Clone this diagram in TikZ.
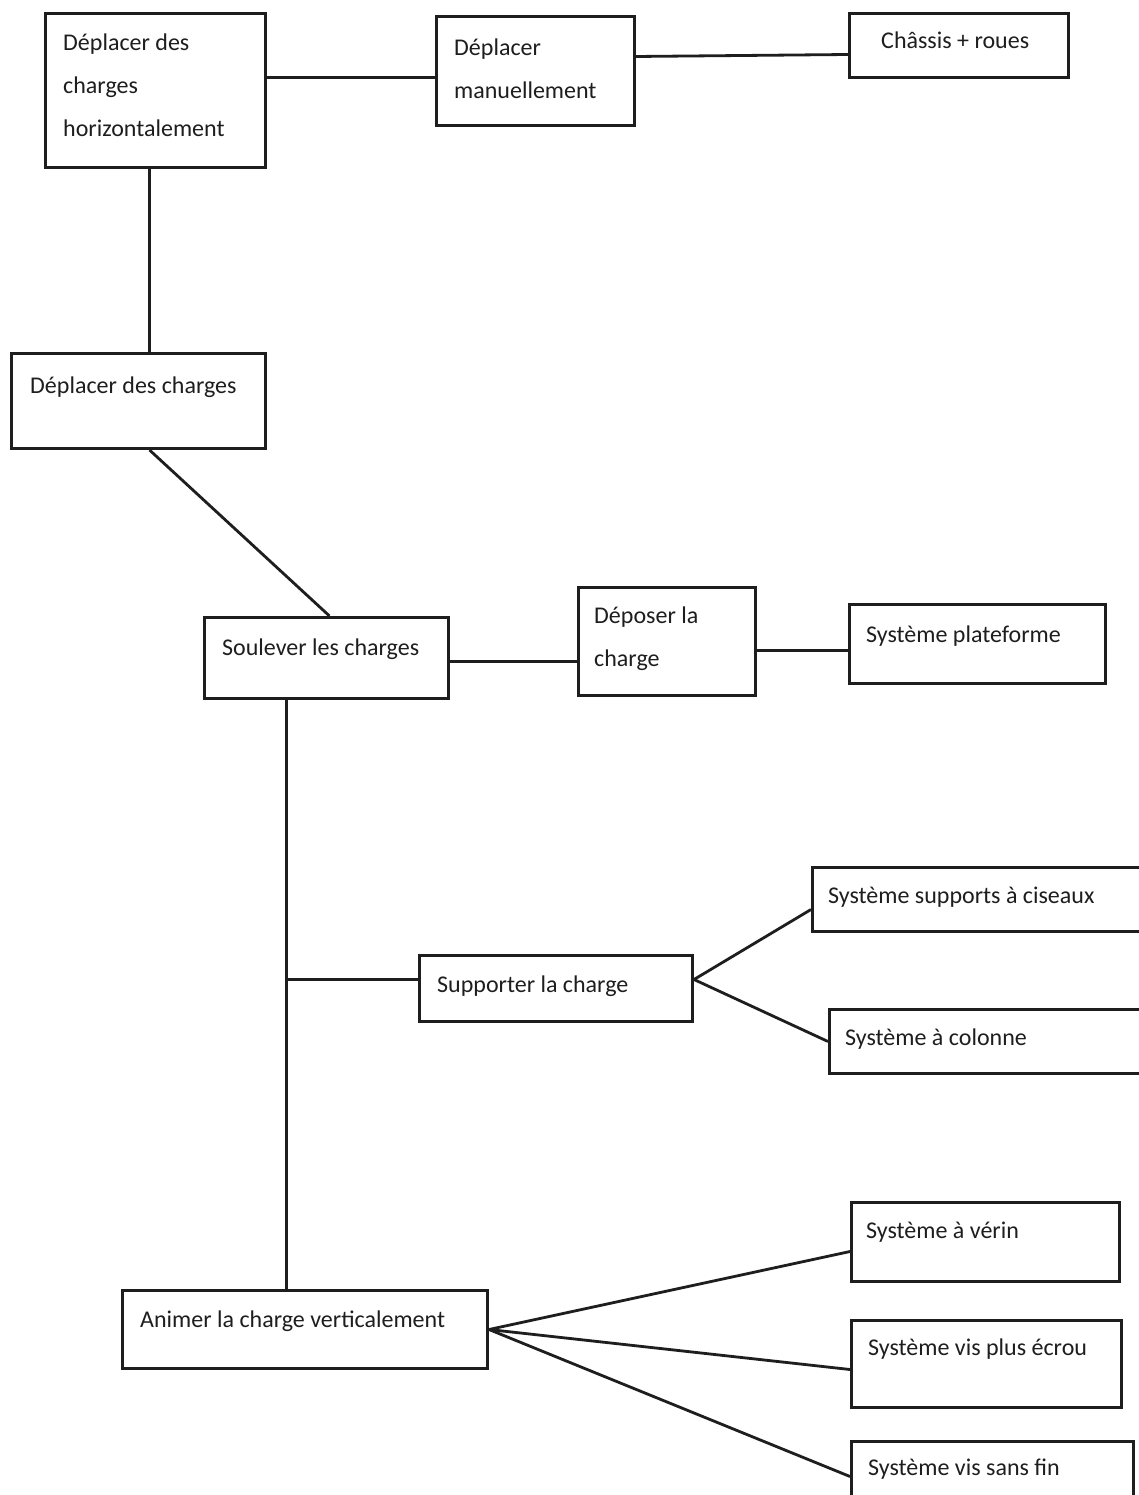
\documentclass[tikz,border=0pt]{standalone}
\usepackage{fontspec}
\setmainfont{Carlito}
\definecolor{ink}{RGB}{30,30,30}
\newcommand{\mlines}[1]{\begin{tabular}[t]{@{}l@{}}#1\end{tabular}}
\tikzset{
  box/.style={draw=ink, line width=3pt, anchor=north west, inner sep=0pt},
  lbl/.style={anchor=base west, inner sep=0pt, text=ink, font=\fontsize{24}{43}\selectfont},
  link/.style={draw=ink, line width=2.8pt}
}
\newcommand{\mybox}[5]{\node[box, minimum width={#4pt-#2pt}, minimum height={#5pt-#3pt}] (#1) at (#2,#3) {};}
\begin{document}
\begin{tikzpicture}[x=1pt,y=-1pt]
\clip (0,0) rectangle (1139,1495);
\fill[white] (0,0) rectangle (1139,1495);
% boxes
\mybox{b1}{44}{12}{264}{166}
\mybox{b2}{435}{15}{633}{124}
\mybox{b3}{848}{12}{1067}{76}
\mybox{b4}{10}{352}{264}{447}
\mybox{b5}{203}{616}{447}{697}
\mybox{b6}{577}{586}{754}{694}
\mybox{b7}{848}{603}{1104}{682}
\mybox{b8}{418}{954}{691}{1020}
\mybox{b9}{811}{866}{1160}{930}
\mybox{b10}{828}{1008}{1160}{1072}
\mybox{b11}{121}{1289}{486}{1367}
\mybox{b12}{850}{1201}{1118}{1280}
\mybox{b13}{850}{1319}{1120}{1406}
\mybox{b14}{850}{1440}{1132}{1510}
% texts
\node[lbl] (t1) at (63,51) {\mlines{Déplacer des\\charges\\horizontalement}};
\node[lbl] (t2) at (454,56) {\mlines{Déplacer\\manuellement}};
\node[lbl] (t3) at (881,49) {Châssis + roues};
\node[lbl] (t4) at (30,393) {Déplacer des charges};
\node[lbl] (t5) at (222,655) {Soulever les charges};
\node[lbl] (t6) at (594,623) {\mlines{Déposer la\\charge}};
\node[lbl] (t7) at (866,642) {Système plateforme};
\node[lbl] (t8) at (437,992) {Supporter la charge};
\node[lbl] (t9) at (828,903) {Système supports à ciseaux};
\node[lbl] (t10) at (845,1045) {Système à colonne};
\node[lbl] (t11) at (140,1327) {Animer la charge verticalement};
\node[lbl] (t12) at (866,1238) {Système à vérin};
\node[lbl] (t13) at (868,1355) {Système vis plus écrou};
\node[lbl] (t14) at (868,1475) {Système vis sans fin};
% connectors
\coordinate (p1) at ([yshift=13pt]b1.east);
\draw[link] (p1) -- (p1 -| b2.west);
\draw[link] ([yshift=14.5pt]b2.east) -- ([yshift=-9pt]b3.west);
\coordinate (p2) at ([xshift=-6pt]b1.south);
\draw[link] (p2) -- (p2 |- b4.north);
\draw[link] ([xshift=11pt]b4.south) -- ([xshift=3pt]b5.north);
\coordinate (p3) at ([yshift=-3.5pt]b5.east);
\draw[link] (p3) -- (p3 -| b6.west);
\coordinate (p4) at ([yshift=-9pt]b6.east);
\draw[link] (p4) -- (p4 -| b7.west);
\coordinate (p5) at ([xshift=-40pt]b5.south);
\draw[link] (p5) -- (p5 |- b11.north);
\coordinate (p6) at ([yshift=9pt]b8.west);
\draw[link] (p6 -| p5) -- (p6);
\coordinate (p7) at ([yshift=9pt]b8.east);
\draw[link] (p7) -- ([yshift=-10pt]b9.west);
\draw[link] (p7) -- (b10.west);
\draw[link] (b11.east) -- ([yshift=-9.5pt]b12.west);
\draw[link] (b11.east) -- ([yshift=-5.5pt]b13.west);
\draw[link] (b11.east) -- (b14.west);
\end{tikzpicture}
\end{document}
